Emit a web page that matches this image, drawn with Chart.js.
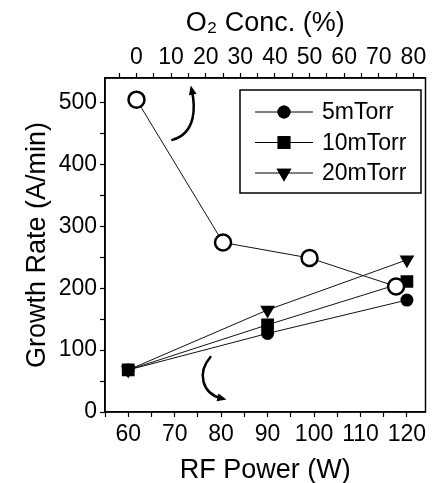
<!DOCTYPE html>
<html>
<head>
<meta charset="utf-8">
<script src="https://cdn.jsdelivr.net/npm/chart.js@4.4.0/dist/chart.umd.min.js"></script>
<style>
  html, body { margin: 0; padding: 0; background: #fff; }
  #wrap { width: 436px; height: 483px; }
</style>
</head>
<body>
<div id="wrap"><canvas id="growth" width="436" height="483"></canvas></div>
<script>
// RF power series (bottom axis)
const rfPower = [60, 90, 120];
const rate5mTorr = [68, 127, 181];
const rate10mTorr = [68, 141, 211];
const rate20mTorr = [68, 165, 246];
// O2 concentration series (top axis)
const o2Conc = [0, 25, 50, 75];
const rateO2 = [505, 274, 249, 203];
const pressureLabels = ["5mTorr", "10mTorr", "20mTorr"];

const FONT = "'Liberation Sans', Arial, Helvetica, sans-serif";
const toPoints = (xs, ys) => xs.map((x, i) => ({ x: x, y: ys[i] }));

// curved arrows, given in RF power / growth rate units
const arrows = [
  [[69.5, 440], [74.8, 451], [74.4, 496], [73.7, 520]],
  [[77.7, 89], [74.8, 64], [75.8, 30], [80.1, 22]]
];

const frameAndLegend = {
  id: "frameAndLegend",
  afterDatasetsDraw(chart) {
    const ctx = chart.ctx;
    const { left, top, right, bottom } = chart.chartArea;
    const sx = chart.scales.x, sy = chart.scales.y;
    ctx.save();
    ctx.strokeStyle = "#000";
    ctx.lineWidth = 1.5;
    ctx.strokeRect(left, top, right - left, bottom - top);

    // arrows
    ctx.lineWidth = 2.5;
    ctx.lineCap = "round";
    arrows.forEach((a) => {
      const p = a.map((v) => [sx.getPixelForValue(v[0]), sy.getPixelForValue(v[1])]);
      ctx.beginPath();
      ctx.moveTo(p[0][0], p[0][1]);
      ctx.bezierCurveTo(p[1][0], p[1][1], p[2][0], p[2][1], p[3][0], p[3][1]);
      ctx.stroke();
      const ang = Math.atan2(p[3][1] - p[2][1], p[3][0] - p[2][0]);
      const tx = p[3][0] + Math.cos(ang) * 5, ty = p[3][1] + Math.sin(ang) * 5;
      ctx.beginPath();
      ctx.moveTo(tx, ty);
      ctx.lineTo(tx - Math.cos(ang - 0.4) * 10, ty - Math.sin(ang - 0.4) * 10);
      ctx.lineTo(tx - Math.cos(ang + 0.4) * 10, ty - Math.sin(ang + 0.4) * 10);
      ctx.closePath();
      ctx.fillStyle = "#000";
      ctx.fill();
    });

    // legend box
    const bx = 240, by = 90, bw = 181, bh = 103;
    ctx.lineWidth = 1.5;
    ctx.lineCap = "butt";
    ctx.strokeRect(bx, by, bw, bh);
    const rows = chart.data.datasets.filter((d) => pressureLabels.includes(d.label));
    rows.forEach((ds, i) => {
      const y = by + 22 + i * 30.5;
      ctx.strokeStyle = "#000";
      ctx.lineWidth = 1;
      ctx.beginPath();
      ctx.moveTo(bx + 15, y);
      ctx.lineTo(bx + 73, y);
      ctx.stroke();
      ctx.fillStyle = "#000";
      Chart.helpers.drawPoint(ctx, {
        pointStyle: ds.pointStyle,
        radius: ds.pointRadius,
        rotation: ds.pointRotation || 0,
        borderWidth: 0
      }, bx + 44, y);
      ctx.fill();
      ctx.font = "23px " + FONT;
      ctx.textBaseline = "middle";
      ctx.textAlign = "left";
      ctx.fillText(ds.label, bx + 82, y + 1);
    });
    ctx.restore();
  }
};

const tickFont = { family: FONT, size: 23 };
const titleFont = { family: FONT, size: 27, lineHeight: 1.2 };

new Chart(document.getElementById("growth"), {
  type: "scatter",
  data: {
    datasets: [
      {
        label: "O2",
        xAxisID: "x2",
        data: toPoints(o2Conc, rateO2),
        showLine: true,
        borderColor: "#111",
        borderWidth: 1,
        pointStyle: "circle",
        pointRadius: 8,
        pointBorderWidth: 2.5,
        pointBackgroundColor: "#fff",
        pointBorderColor: "#000"
      },
      {
        label: pressureLabels[0],
        data: toPoints(rfPower, rate5mTorr),
        showLine: true,
        borderColor: "#111",
        borderWidth: 1,
        pointStyle: "circle",
        pointRadius: 6.5,
        pointBorderWidth: 0,
        pointBackgroundColor: "#000"
      },
      {
        label: pressureLabels[1],
        data: toPoints(rfPower, rate10mTorr),
        showLine: true,
        borderColor: "#111",
        borderWidth: 1,
        pointStyle: "rect",
        pointRadius: 9,
        pointBorderWidth: 0,
        pointBackgroundColor: "#000"
      },
      {
        label: pressureLabels[2],
        data: toPoints(rfPower, rate20mTorr),
        showLine: true,
        borderColor: "#111",
        borderWidth: 1,
        pointStyle: "triangle",
        pointRotation: 180,
        pointRadius: 8.5,
        pointBorderWidth: 0,
        pointBackgroundColor: "#000"
      }
    ]
  },
  options: {
    responsive: false,
    animation: false,
    devicePixelRatio: 1,
    layout: { padding: { left: 0, right: 6, top: 0, bottom: 0 } },
    plugins: { legend: { display: false }, tooltip: { enabled: false } },
    scales: {
      x: {
        type: "linear",
        position: "bottom",
        min: 55,
        max: 124,
        afterFit: (s) => { s.height = 71; },
        border: { color: "#000", width: 1.5 },
        grid: { drawOnChartArea: false, tickLength: 5, color: "#000", tickWidth: 1.2 },
        ticks: {
          stepSize: 5, autoSkip: false, includeBounds: false, maxRotation: 0,
          color: "#000", font: tickFont, padding: 4,
          callback: (v) => (v % 10 === 0 ? v : "")
        },
        title: {
          display: true, text: "RF Power (W)", color: "#000",
          font: { family: FONT, size: 27, lineHeight: 0.9 }, padding: { top: 0, bottom: 0 }
        }
      },
      x2: {
        type: "linear",
        position: "top",
        min: -9.1,
        max: 83.5,
        afterFit: (s) => { s.height = 78; },
        border: { color: "#000", width: 1.5 },
        grid: { drawOnChartArea: false, tickLength: 5, color: "#000", tickWidth: 1.2 },
        ticks: {
          stepSize: 5, autoSkip: false, includeBounds: false, maxRotation: 0,
          color: "#000", font: tickFont, padding: 2,
          callback: (v) => (v % 10 === 0 && v >= 0 ? v : "")
        },
        title: {
          display: true, text: "O\u2082 Conc. (%)", color: "#000",
          font: { family: FONT, size: 27, lineHeight: 1.2 }, padding: { top: 7, bottom: 0 }
        }
      },
      y: {
        type: "linear",
        position: "left",
        min: 0,
        max: 540,
        afterFit: (s) => { s.width = 105; },
        border: { color: "#000", width: 1.5 },
        grid: { drawOnChartArea: false, tickLength: 5, color: "#000", tickWidth: 1.2 },
        ticks: {
          stepSize: 50, autoSkip: false, includeBounds: false,
          color: "#000", font: tickFont, padding: 3,
          callback: (v) => (v % 100 === 0 ? v : "")
        },
        title: {
          display: true, text: "Growth Rate (A/min)", color: "#000",
          font: titleFont, padding: { top: 21, bottom: 0 }
        }
      }
    }
  },
  plugins: [frameAndLegend]
});
</script>
</body>
</html>
